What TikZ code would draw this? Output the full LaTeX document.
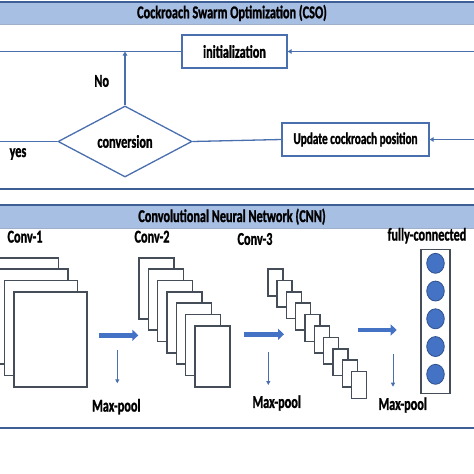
\documentclass[tikz,border=0pt]{standalone}
\usepackage{fontspec}
\setmainfont{Carlito}
\newfontfamily\lblfont[FakeStretch=0.68, BoldFeatures={FakeBold=1.2}]{Carlito}
\usetikzlibrary{arrows.meta,shapes.geometric}
\definecolor{cline}{HTML}{4A6FAE}
\definecolor{cdark}{HTML}{3E5F96}
\definecolor{cband}{HTML}{A8BFE4}
\definecolor{cgray}{HTML}{454D59}
\definecolor{cfill}{HTML}{4472C4}
\definecolor{cedge}{HTML}{2F528F}
\begin{document}
\begin{tikzpicture}[x=1pt,y=-1pt,
    txt/.style={font=\lblfont\bfseries\fontsize{18}{18}\selectfont, inner sep=0pt},
    box/.style={draw=cline, line width=1.3pt, fill=white, inner sep=0pt, font=\lblfont\bfseries\fontsize{18}{18}\selectfont},
    flow/.style={cline, line width=1.3pt},
    tip/.style={-{Triangle[length=4pt,width=4.5pt]}},
    fmap/.style={draw=cgray, line width=1.6pt, fill=white},
    fat/.style={cfill, line width=4.5pt, -{Triangle[length=6pt,width=11pt]}},
    pool/.style={cline, line width=1pt, -{Triangle[length=4pt,width=4pt]}},
    neuron/.style={ellipse, draw=cedge, line width=0.8pt, fill=cfill, minimum width=17.6pt, minimum height=20pt, inner sep=0pt},
    rule/.style={cdark, line width=2pt}]
    \useasboundingbox[fill=white] (0,0) rectangle (474,474);

    \fill[cband] (0,3) rectangle (474,24);
    \draw[rule] (0,2) -- (474,2);
    \draw[cdark!50, line width=0.6pt] (0,24) -- (474,24);
    \node[txt] (cso) at (232,13) {Cockroach Swarm Optimization (CSO)};

    \node[box, minimum width=105pt, minimum height=33pt] (init) at (234.5,51.5) {initialization};
    \node[box, diamond, aspect=2, minimum width=134pt, minimum height=71pt] (conv) at (125,141.5) {conversion};
    \node[box, minimum width=147pt, minimum height=33pt, font=\lblfont\bfseries\fontsize{16.5}{16.5}\selectfont] (upd) at (355.5,139.5) {Update cockroach position};
    \coordinate (inL) at (0,51.5);
    \coordinate (inR) at (474,51.5);
    \coordinate (cvL) at (0,141.5);
    \coordinate (upR) at (474,139.5);
    \draw[flow] (inL) -- (init.west);
    \draw[flow, tip] (inR) -- (init.east);
    \draw[flow, tip] (conv.north) -- (conv.north |- inL);
    \draw[flow] (cvL) -- (conv.west);
    \draw[flow] (conv.east) -- (upd.west);
    \draw[flow, tip] (upR) -- (upd.east);
    \node[txt] (no) at (101.7,81) {No};
    \node[txt] (yes) at (18,154) {yes};
    \draw[rule] (0,189.3) -- (474,189.3);

    \fill[cband] (0,205.5) rectangle (474,228);
    \draw[rule] (0,204.7) -- (474,204.7);
    \draw[cdark!50, line width=0.6pt] (0,228) -- (474,228);
    \node[txt] (cnn) at (232,216.7) {Convolutional Neural Network (CNN)};

    \node[txt] (c1) at (25,236.7) {Conv-1};
    \node[txt] (c2) at (152,236.7) {Conv-2};
    \node[txt] (c3) at (255,239) {Conv-3};
    \node[txt] (fc) at (427,235.7) {fully-connected};

    \foreach \i in {0,...,3}
        \draw[fmap] (-14.2+\i*9.4,257.8+\i*11.3) rectangle ++(72.7,95);
    \foreach \i in {0,...,6}
        \draw[fmap] (139+\i*9.33,257.7+\i*11.38) rectangle ++(35,61);
    \foreach \i in {0,...,9}
        \draw[fmap] (267.7+\i*9.33,269+\i*11.4) rectangle ++(15,26.7);

    \draw[fmap] (421,249.3) rectangle (450,393.3);
    \foreach \k in {0,...,4}
        \node[neuron] (n\k) at (435.5,263.3+\k*27.75) {};

    \draw[fat] (98.7,335.3) -- (138.3,335.3);
    \draw[fat] (244,334.3) -- (284,334.3);
    \draw[fat] (357.7,330) -- (396.7,330);

    \draw[pool] (117.3,350) -- (117.3,383.3);
    \draw[pool] (268.3,352.3) -- (268.3,385);
    \draw[pool] (393,354) -- (393,386.7);
    \node[txt] (mp1) at (116.3,406.7) {Max-pool};
    \node[txt] (mp2) at (276.7,403) {Max-pool};
    \node[txt] (mp3) at (402.7,405) {Max-pool};

    \draw[rule] (0,427.7) -- (474,427.7);
\end{tikzpicture}
\end{document}
